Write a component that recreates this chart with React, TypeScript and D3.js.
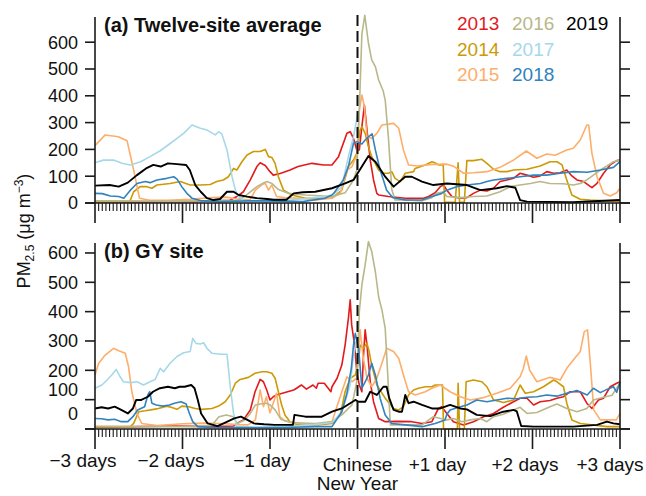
import React from "react";
import * as d3 from "d3";

type P = [number, number];

const YEARS = ["2013", "2014", "2015", "2016", "2017", "2018", "2019"];
const COLORS = ["#E31A1C", "#CC9A06", "#FDAE6B", "#B8B88A", "#A6D8EA", "#3182BD", "#000000"];
const Y_TICKS = [0, 100, 200, 300, 400, 500, 600];
const X_MAJOR = [-72, -48, -24, 0, 24, 48, 72];
const X_LABELS = ["−3 days", "−2 days", "−1 day", "Chinese", "+1 day", "+2 days", "+3 days"];

// ---------- Panel (a): twelve-site average (hour relative to CNY, µg m-3)
const A_2013: P[] = [[-72,5],[-60,4],[-50,6],[-45,5],[-40,8],[-35,10],[-33.1,24],[-31.3,42],[-29.4,86],[-27.6,136],[-26.7,150],[-25.3,140],[-24,117],[-23.1,104],[-21.2,110],[-18.5,123],[-16.3,136],[-12.5,148],[-9.3,142],[-7,142],[-5.2,173],[-2.9,260],[-2,266],[-1.1,241],[-0.2,198],[0.5,198],[1.2,285],[1.9,365],[2.6,272],[3.5,160],[4.4,86],[5.3,36],[5.8,30],[8.5,24],[13.1,18],[18.1,18],[19.5,24],[21.3,38],[22.7,61],[23.6,67],[24.5,48],[25.9,24],[28.2,18],[30,20],[31.8,36],[33.7,48],[35.5,45],[37.3,55],[39.1,80],[41,86],[42.8,92],[44.6,111],[46.5,104],[48.3,96],[50.1,101],[51.9,117],[53.8,111],[55.6,113],[57.4,123],[58.8,101],[60.2,86],[62,80],[64.3,57],[65.7,73],[67.5,111],[69.3,142],[71.1,158],[72,160]];
const A_2014: P[] = [[-72,5],[-62.6,5],[-62.3,11],[-61.4,42],[-59.6,61],[-57.8,61],[-56.4,55],[-55,67],[-51.4,73],[-48.6,80],[-45.9,67],[-43.1,67],[-40.4,69],[-38.6,80],[-36.8,86],[-35.4,98],[-34,129],[-33.1,123],[-31.7,154],[-30.3,179],[-28.5,192],[-26.7,192],[-25.3,200],[-24.4,173],[-23.5,170],[-22.6,148],[-21.7,98],[-20.3,48],[-18,30],[-14.3,18],[-7,18],[-4.3,48],[-2.5,136],[-1.1,160],[-0.2,185],[0.7,272],[1.2,285],[2.1,260],[3,210],[3.9,173],[5.8,123],[7.1,111],[8.5,111],[9.4,117],[10.3,92],[11.7,80],[13.1,111],[15.4,117],[15.8,129],[18.6,142],[20.4,154],[21.3,150],[22.2,142],[23.1,142],[23.5,145],[23.9,3],[26.8,3],[27.6,150],[28,3],[29.3,3],[30,158],[31.8,158],[34.1,163],[35.5,148],[37.3,126],[39.1,117],[41,117],[42.8,123],[46.5,126],[50.1,138],[52.8,154],[54.7,154],[56.1,142],[57.4,86],[58.8,30],[61.1,14],[63.8,11],[72,5]];
const A_2015: P[] = [[-72,214],[-69.2,254],[-65.6,247],[-63.2,232],[-61.4,123],[-59.8,18],[-57,10],[-52,10],[-46,14],[-40,20],[-36,22],[-33,15],[-29.5,12],[-28,48],[-26,70],[-25.3,73],[-24.4,48],[-23.5,67],[-22.2,24],[-20,20],[-16,18],[-11.6,11],[-7,18],[-4.7,36],[-2.9,123],[-1.5,136],[-0.8,160],[-0.2,173],[0.5,347],[1.2,403],[1.9,359],[2.6,247],[3.9,241],[5.3,260],[6.7,291],[9.9,297],[11.3,279],[12.6,198],[14,142],[16.4,138],[20.4,144],[22,144],[24.5,145],[26.5,136],[29.1,111],[31.8,113],[35.5,117],[39.1,133],[42.8,160],[46.3,194],[49.2,167],[51.9,183],[54.2,178],[57.4,198],[59.2,204],[61.1,235],[62.9,291],[63.4,291],[64.3,185],[65.7,98],[67.5,36],[69.3,26],[71.1,38],[72,55]];
const A_2016: P[] = [[-72,8],[-50,7],[-40,8],[-33,10],[-31,24],[-27.6,61],[-25.8,75],[-24.8,80],[-23.5,73],[-21.7,50],[-19,36],[-14.3,30],[-7,24],[-3.4,38],[-1.1,86],[-0.2,123],[0.5,347],[1.2,630],[2,700],[3,596],[3.9,534],[4.9,509],[5.8,459],[7,420],[7.6,384],[8.5,240],[9.4,50],[10.3,11],[13.1,11],[17.7,8],[20.4,20],[21.7,36],[23.6,42],[24.5,24],[28.2,20],[31.8,24],[35.5,26],[39.1,42],[41.9,61],[44.6,67],[47.4,73],[50.1,80],[52.8,73],[56.5,72],[59.2,67],[61.1,73],[62.9,86],[64.7,104],[66.6,123],[68.4,138],[70.2,154],[72,160]];
const A_2017: P[] = [[-72,150],[-69.7,160],[-66.9,160],[-64.6,148],[-62.3,142],[-59.5,154],[-56.9,173],[-54.1,195],[-51.3,223],[-49.5,241],[-47.7,260],[-45.4,291],[-43.1,279],[-41.3,272],[-39,254],[-38.1,266],[-37.2,257],[-35.8,198],[-34.4,98],[-33.5,48],[-32.6,24],[-30.8,8],[-25,6],[-20,8],[-15.7,15],[-10.2,22],[-6.7,30],[-4.3,61],[-2.5,173],[-1.1,247],[0.1,335]];
const A_2018: P[] = [[-72,36],[-70,35],[-67.8,26],[-65.5,24],[-64.1,18],[-62.3,48],[-60.5,73],[-58.2,80],[-56.9,76],[-55,86],[-52.3,92],[-50.4,98],[-49.5,89],[-48.2,61],[-46.8,36],[-45.4,18],[-43.1,9],[-38,5],[-30,8],[-24,8],[-15,5],[-9,18],[-7,30],[-6.3,40],[-3.9,86],[-2.5,136],[-1.1,223],[-0.2,229],[1.2,220],[2.1,235],[3,247],[4,258],[4.9,198],[6.2,123],[7.1,86],[8,48],[9.7,20],[13.1,11],[17.7,11],[20.4,24],[23,35],[24.5,48],[27.2,61],[30,67],[33.7,73],[35.5,80],[37.3,86],[41,92],[44.6,98],[48.3,104],[51.9,104],[55.6,111],[59.2,117],[63,115],[66.6,123],[70.2,133],[72,154]];
const A_2019: P[] = [[-72,65],[-68,67],[-65.5,61],[-63,76],[-60.5,104],[-58,129],[-56,142],[-54,136],[-52,148],[-49.5,145],[-47,142],[-46,123],[-44.5,67],[-43,42],[-41.3,18],[-39.5,11],[-37.7,15],[-35.8,42],[-34,42],[-32.6,30],[-30.3,24],[-27.6,18],[-24.8,15],[-23,12],[-19.5,12],[-17.5,36],[-15,40],[-11.6,42],[-7,55],[-3.4,73],[-1.1,86],[1.2,136],[3,175],[4.9,154],[7.6,98],[9.9,61],[13.1,98],[14.9,98],[17.7,80],[20.8,67],[24.5,73],[30,67],[33.7,48],[38.2,55],[41,63],[43.3,57],[44.6,11],[46.5,5],[59,3],[72,11]];

// ---------- Panel (b): GY site
const B_2013: P[] = [[-72,5],[-60,8],[-50,10],[-40,8],[-34,10],[-33.1,19],[-31.3,31],[-29.4,65],[-28.1,127],[-26.7,169],[-25.8,161],[-24.9,133],[-24,99],[-23.1,110],[-22.2,116],[-20.6,122],[-17.5,133],[-16.7,139],[-15.4,150],[-14,136],[-12.2,150],[-11.3,139],[-10.8,156],[-9.1,156],[-7.3,127],[-7,144],[-5.6,173],[-4.3,218],[-3.4,286],[-2.5,377],[-2,440],[-1.6,355],[-0.8,286],[-0.2,195],[0.5,150],[1.2,127],[1.6,241],[2.1,338],[2.6,286],[3.5,161],[4.4,93],[5.8,36],[7.6,25],[11.3,26],[14.9,25],[17.7,19],[20.4,25],[22.2,70],[23.1,76],[24.5,53],[26.3,25],[29.1,14],[31.8,25],[34.6,42],[37.3,53],[40,74],[42.8,93],[44.6,105],[46.5,105],[48.3,82],[50.1,93],[52.8,97],[54.7,105],[56.5,110],[58.3,127],[61.1,127],[62.9,88],[64.3,70],[66.1,99],[67.5,105],[69.3,144],[71.1,156],[72,161]];
const B_2014: P[] = [[-72,8],[-62.3,8],[-61.4,19],[-60,59],[-58.2,62],[-55.9,67],[-54.6,70],[-52.3,78],[-50.9,73],[-49.5,67],[-48.2,78],[-46.3,76],[-44.5,70],[-42.7,67],[-39.9,70],[-38.1,78],[-36.3,93],[-34.9,116],[-33.5,156],[-32.2,169],[-29.9,176],[-28.1,190],[-26.2,195],[-24.9,195],[-23.5,190],[-22.6,173],[-21.7,127],[-20.8,82],[-19.9,48],[-18.5,25],[-16.3,14],[-10.8,14],[-7,19],[-4.7,48],[-3.4,127],[-2,173],[-0.6,184],[0.3,229],[0.7,286],[1.6,275],[2.6,292],[3.2,264],[3.9,218],[5.3,150],[7.6,105],[9.9,70],[11.3,65],[12.6,76],[14,116],[15.4,133],[16.7,139],[18.6,144],[20.4,144],[21.3,150],[23.3,150],[23.6,0],[27.4,0],[27.6,156],[28,0],[29.3,0],[29.8,161],[31.8,167],[34.1,161],[35.5,144],[37.3,99],[40,90],[42.8,99],[44.6,150],[46,122],[48.3,127],[51,144],[53.8,167],[54.7,161],[56.5,144],[57.4,88],[58.8,31],[61.1,19],[68.4,8],[72,8]];
const B_2015: P[] = [[-72,184],[-71,224],[-69.2,252],[-66.9,275],[-65.5,267],[-63.7,258],[-62.8,212],[-61.9,127],[-60.5,53],[-59.2,19],[-55,12],[-48,18],[-42,20],[-36,18],[-33,15],[-30,14],[-28,31],[-26.7,133],[-25.8,76],[-25,110],[-24,55],[-22.2,122],[-21.3,42],[-20,28],[-15.6,19],[-11.6,14],[-7,25],[-4.3,127],[-2.9,178],[-1.5,161],[-0.2,173],[0.7,338],[1.6,241],[2.6,173],[3.9,144],[5.3,173],[6.7,224],[8,275],[9.9,264],[11.3,241],[12.6,184],[14,127],[15.8,116],[18.6,127],[20.4,139],[22.7,150],[25.4,127],[28.2,110],[30.9,99],[34.6,107],[38.2,122],[41.9,139],[44.6,178],[45.5,207],[46.3,249],[47.2,201],[49.2,161],[52.8,176],[55.6,167],[57.4,207],[59.2,235],[61.1,264],[62.2,332],[63.1,338],[64,201],[64.8,65],[66.6,31],[69.3,31],[71,31],[72,53]];
const B_2016: P[] = [[-72,8],[-45,8],[-40,12],[-38,42],[-36,48],[-34,42],[-33,19],[-31,30],[-29.4,53],[-28,82],[-26.7,85],[-24.9,88],[-24,82],[-22.6,65],[-21,33],[-18.5,22],[-11.6,19],[-7,25],[-4.3,48],[-1.5,82],[-0.2,161],[0.5,400],[1.2,491],[2.1,560],[3,639],[3.9,605],[4.9,536],[5.8,450],[6.7,406],[7.6,343],[8.3,184],[9,14],[12.6,14],[17.7,14],[20.8,42],[24.5,31],[26.3,36],[28.7,25],[30.9,31],[33.7,36],[35.5,25],[37.3,42],[40,50],[42.8,65],[44.6,74],[46.5,53],[49.2,56],[52.8,76],[54.7,85],[57.4,70],[60.2,59],[62.9,70],[64.7,99],[67.5,108],[69.8,115],[72,156]];
const B_2017: P[] = [[-72,139],[-70.1,150],[-68.7,167],[-67.4,184],[-66.2,203],[-65.1,178],[-64.2,161],[-62.3,158],[-60.5,161],[-58.7,150],[-56.9,161],[-55.5,169],[-54.1,207],[-53.2,195],[-51.4,224],[-49.5,247],[-47.7,260],[-45.9,264],[-45.2,309],[-44.3,292],[-43.1,290],[-42.2,294],[-41.3,275],[-39.9,258],[-37.7,255],[-35.8,255],[-34.9,144],[-34,53],[-33.1,8],[-28,5],[-20,8],[-12,15],[-7,22],[-4.3,58],[-2,150],[-1.3,229],[-0.4,300]];
const B_2018: P[] = [[-72,36],[-70.2,35],[-68.4,31],[-66.6,33],[-64.8,25],[-63,25],[-61.6,42],[-60.3,65],[-58.4,76],[-57.5,116],[-57,127],[-56.4,88],[-55.2,82],[-53.4,78],[-51.6,82],[-50.2,88],[-48.4,93],[-47,85],[-46.1,53],[-45.2,25],[-43.8,8],[-40,5],[-30,5],[-20,5],[-11.6,8],[-7,8],[-4.3,59],[-2.9,122],[-1.7,207],[-1.1,286],[-0.6,326],[0.3,275],[1.2,139],[2.1,161],[3,184],[3.9,224],[4.9,184],[6.2,105],[7.6,48],[9.4,19],[13.1,14],[17.7,8],[21.3,19],[24,31],[24.5,50],[25.4,65],[28.2,76],[30,82],[32.7,99],[35.5,93],[38.2,99],[41,105],[43.7,103],[46.5,108],[49.2,110],[51.9,116],[54.7,112],[57.4,122],[60.2,131],[63,116],[64.7,139],[66.6,124],[68.4,135],[70.2,144],[71.1,125],[72,161]];
const B_2019: P[] = [[-72,70],[-70.2,74],[-68.4,70],[-66.6,76],[-64.8,65],[-63,53],[-61.6,70],[-60.7,99],[-59.3,99],[-57.5,110],[-56.1,127],[-54.2,139],[-52,144],[-50.1,139],[-48.8,144],[-47.4,144],[-45.6,150],[-44.7,139],[-43.8,99],[-42.9,53],[-41.1,19],[-38.4,10],[-35.7,25],[-33.8,36],[-32,42],[-30.2,31],[-28.4,19],[-25.6,16],[-22.8,14],[-17.7,14],[-17.3,48],[-14.3,42],[-9.8,42],[-7,59],[-4.3,70],[-2,88],[-0.6,99],[0.3,93],[2.1,93],[3.5,127],[5.3,116],[7.1,144],[8,144],[8.7,105],[9.9,65],[11.3,59],[12.2,59],[13.1,116],[14,88],[15.4,93],[17.7,82],[20.4,70],[22.7,70],[25.4,82],[28.2,70],[30,67],[32.7,48],[36.4,44],[40,59],[42.8,65],[43.7,60],[44.9,10],[48.3,8],[59.2,8],[65.7,14],[68.4,25],[70.2,19],[72,16]];

const SERIES_A = [A_2013, A_2014, A_2015, A_2016, A_2017, A_2018, A_2019];
const SERIES_B = [B_2013, B_2014, B_2015, B_2016, B_2017, B_2018, B_2019];

// ---------- layout
const W = 646;
const H = 496;
const X0 = 95;
const X1 = 620;
const FONT = "'Liberation Sans', Arial, Helvetica, sans-serif";
const AXIS = "#1a1a1a";

const x = d3.scaleLinear().domain([-72, 72]).range([X0, X1]);

interface PanelProps {
  series: P[][];
  yMax: number;
  top: number;
  bottom: number;
  title: string;
  labelShift: Record<number, number>;
}

function Panel({ series, yMax, top, bottom, title, labelShift }: PanelProps) {
  const y = d3.scaleLinear().domain([0, yMax]).range([bottom, top]);
  const line = d3
    .line<P>()
    .x((d) => x(d[0]))
    .y((d) => y(d[1]));
  const hours = d3.range(-72, 73, 1);
  return (
    <g>
      {series.map((s, i) => (
        <path
          key={YEARS[i]}
          d={line(s) || ""}
          fill="none"
          stroke={COLORS[i]}
          strokeWidth={i === 6 ? 1.9 : 1.6}
          strokeLinejoin="round"
        />
      ))}
      <line
        x1={x(0)}
        x2={x(0)}
        y1={top - 2}
        y2={bottom}
        stroke="#111"
        strokeWidth={2}
        strokeDasharray="11,5"
      />
      <line x1={X0} x2={X0} y1={top} y2={bottom} stroke={AXIS} strokeWidth={1.6} />
      <line x1={X1} x2={X1} y1={top} y2={bottom} stroke={AXIS} strokeWidth={1.6} />
      <line x1={X0 - 10} x2={X1 + 10} y1={bottom} y2={bottom} stroke={AXIS} strokeWidth={1.6} />
      {Y_TICKS.map((t) => (
        <g key={t}>
          <line x1={X0 - 10} x2={X0} y1={y(t)} y2={y(t)} stroke={AXIS} strokeWidth={1.6} />
          <line x1={X1} x2={X1 + 10} y1={y(t)} y2={y(t)} stroke={AXIS} strokeWidth={1.6} />
          <text
            x={X0 - 17}
            y={y(t) + (labelShift[t] || 0)}
            dy="0.36em"
            textAnchor="end"
            fontSize={18}
            fontFamily={FONT}
            fill="#111"
          >
            {t}
          </text>
        </g>
      ))}
      {hours.map((h) => (
        <line
          key={h}
          x1={x(h)}
          x2={x(h)}
          y1={bottom}
          y2={bottom + (h % 24 === 0 ? 20 : 8)}
          stroke={AXIS}
          strokeWidth={h % 24 === 0 ? 1.6 : 1.1}
        />
      ))}
      <text
        x={104}
        y={top + 15}
        fontSize={20}
        fontWeight="bold"
        fontFamily={FONT}
        fill="#111"
      >
        {title}
      </text>
    </g>
  );
}

const LABEL_DX = [-12, -11.5, -8, 0, -7.5, -7.5, -10];
const LABEL_Y = [467, 467, 467, 471, 471, 471, 471];

export default function App() {
  return (
    <svg
      width={W}
      height={H}
      viewBox={`0 0 ${W} ${H}`}
      style={{ position: "absolute", left: 0, top: 0, background: "#fff" }}
    >
      <rect x={0} y={0} width={W} height={H} fill="#fff" />
      <Panel
        series={SERIES_A}
        yMax={694}
        top={17}
        bottom={203}
        title="(a) Twelve-site average"
        labelShift={{}}
      />
      <Panel
        series={SERIES_B}
        yMax={634}
        top={243}
        bottom={429}
        title="(b) GY site"
        labelShift={{ 100: -10, 0: -15 }}
      />
      {YEARS.map((yr, i) => {
        const col = Math.floor(i / 3);
        const row = i % 3;
        return (
          <text
            key={yr}
            x={[457, 512, 566][col]}
            y={30 + row * 25.6}
            fontSize={19}
            fontFamily={FONT}
            fill={COLORS[i]}
          >
            {yr}
          </text>
        );
      })}
      {X_MAJOR.map((h, i) => (
        <text
          key={h}
          x={x(h) + LABEL_DX[i]}
          y={LABEL_Y[i]}
          textAnchor="middle"
          fontSize={19}
          fontFamily={FONT}
          fill="#111"
        >
          {X_LABELS[i]}
        </text>
      ))}
      <text x={x(0)} y={490} textAnchor="middle" fontSize={19} fontFamily={FONT} fill="#111">
        New Year
      </text>
      <text
        transform="translate(30,231) rotate(-90)"
        textAnchor="middle"
        fontSize={18}
        fontFamily={FONT}
        fill="#111"
      >
        PM
        <tspan fontSize={12} dy={4}>2.5</tspan>
        <tspan dy={-4}> (μg m</tspan>
        <tspan fontSize={12} dy={-7}>−3</tspan>
        <tspan dy={7}>)</tspan>
      </text>
    </svg>
  );
}
